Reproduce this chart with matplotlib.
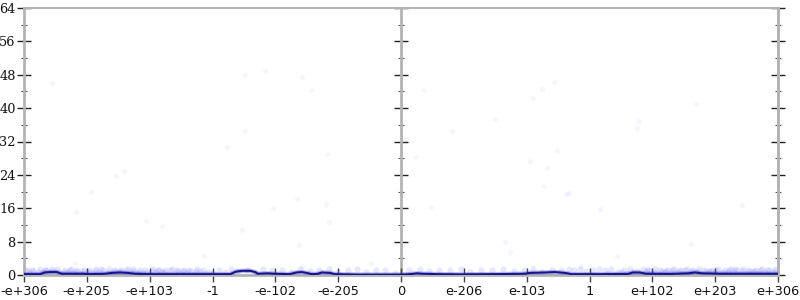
import matplotlib
matplotlib.use("Agg")
import matplotlib.pyplot as plt
import numpy as np

# ---- data (x in ordinal units: tick k at position k, -6..6) ----
tick_pos = [-6, -5, -4, -3, -2, -1, 0, 1, 2, 3, 4, 5, 6]
tick_labels = ["-e+306", "-e+205", "-e+103", "-1", "-e-102", "-e-205", "0",
               "e-206", "e-103", "1", "e+102", "e+203", "e+306"]
y_ticks = [0, 8, 16, 24, 32, 40, 48, 56, 64]

# scattered high-error points
out_x = [-5.55, -5.18, -4.94, -4.53, -4.41, -4.06, -3.80, -3.14, -2.77, -2.53,
         -2.48, -2.48, -2.16, -2.04, -1.65, -1.63, -1.58, -1.43, -1.19, -1.17,
         -1.15, -5.19, -1.58, -0.47,
         0.02, 0.08, 0.24, 0.37, 0.48, 0.81, 1.50, 1.65, 1.73, 2.06, 2.10, 2.24,
         2.28, 2.33, 2.44, 2.49, 2.62, 2.68, 2.86, 3.17, 3.44, 3.75, 3.79, 4.62,
         4.69, 5.42]
out_y = [46.0, 15.1, 20.0, 23.7, 24.9, 13.0, 11.7, 4.5, 30.7, 10.7,
         47.9, 34.5, 48.9, 16.1, 18.1, 7.2, 47.5, 44.4, 16.9, 29.0,
         12.6, 2.8, 2.2, 2.8,
         19.6, 32.6, 28.4, 44.4, 16.4, 34.4, 37.3, 7.8, 5.5, 27.4, 42.5, 44.5,
         21.3, 25.6, 46.3, 29.7, 19.5, 19.6, 2.2, 15.8, 4.6, 35.2, 36.9, 7.5,
         41.0, 16.8]

# low-error band points
band_left_x = [-5.95, -5.85, -5.75, -5.65, -5.55, -5.45, -5.35, -5.25, -5.15, -5.05,
               -4.95, -4.85, -4.75, -4.65, -4.55, -4.45, -4.35, -4.25, -4.15, -4.05,
               -3.95, -3.85, -3.75, -3.65, -3.55, -3.45, -3.35, -3.25, -3.15, -3.05]
band_left_y1 = [1.3, 0.9, 1.5, 1.1, 1.4, 0.8, 1.2, 1.5, 1.0, 1.3,
                0.7, 1.4, 1.1, 1.5, 0.9, 1.2, 1.4, 1.0, 1.3, 0.8,
                1.5, 1.1, 1.2, 1.4, 0.9, 1.3, 1.0, 1.5, 1.2, 0.8]
band_left_x2 = [-5.90, -5.80, -5.70, -5.60, -5.50, -5.40, -5.30, -5.20, -5.10, -5.00,
                -4.90, -4.80, -4.70, -4.60, -4.50, -4.40, -4.30, -4.20, -4.10, -4.00,
                -3.90, -3.80, -3.70, -3.60, -3.50, -3.40, -3.30, -3.20, -3.10, -3.00]
band_left_y2 = [0.5, 0.3, 0.7, 0.4, 0.6, 0.2, 0.8, 0.5, 0.3, 0.6,
                0.4, 0.7, 0.2, 0.5, 0.6, 0.3, 0.8, 0.4, 0.5, 0.2,
                0.7, 0.6, 0.3, 0.5, 0.4, 0.6, 0.3, 0.7, 0.5, 0.4]
band_left_x3 = [-5.97, -5.87, -5.77, -5.67, -5.57, -5.47, -5.37, -5.27, -5.17, -5.07,
                -4.97, -4.87, -4.77, -4.67, -4.57, -4.47, -4.37, -4.27, -4.17, -4.07,
                -3.97, -3.87, -3.77, -3.67, -3.57, -3.47, -3.37, -3.27]
band_left_y3 = [1.0, 1.2, 0.6, 1.3, 0.9, 1.4, 0.7, 1.1, 1.3, 0.9,
                1.2, 1.0, 1.4, 0.8, 1.3, 1.0, 1.2, 1.4, 0.7, 1.1,
                1.0, 1.3, 0.8, 1.1, 1.3, 0.9, 1.2, 1.0]
band_mid_x = [-2.90, -2.80, -2.70, -2.60, -2.45, -2.30, -2.20, -2.05, -1.90, -1.75,
              -1.60, -1.45, -1.30, -1.15, -1.00, -0.85, -0.70, -0.55, -0.40, -0.25,
              -0.10, 0.12, 0.30, 0.45, 0.60, 0.78, 0.95, 1.10, 1.28, 1.45,
              1.62, 1.80, 1.95, 2.10, 2.25, 2.40, 2.55, 2.68]
band_mid_y = [1.3, 0.6, 1.4, 0.9, 1.2, 0.5, 1.4, 1.1, 1.3, 0.7,
              1.4, 1.0, 1.2, 1.4, 0.8, 1.3, 1.4, 0.6, 1.2, 1.3,
              0.5, 1.3, 1.4, 0.9, 1.3, 1.2, 1.4, 0.7, 1.3, 1.2,
              1.4, 1.0, 1.3, 1.4, 0.8, 1.3, 1.2, 1.4]
band_right_x = [2.75, 2.85, 2.95, 3.05, 3.15, 3.25, 3.35, 3.45, 3.55, 3.65,
                3.75, 3.85, 3.95, 4.05, 4.15, 4.25, 4.35, 4.45, 4.55, 4.65,
                4.75, 4.85, 4.95, 5.05, 5.15, 5.25, 5.35, 5.45, 5.55, 5.65,
                5.75, 5.85, 5.95]
band_right_y1 = [1.2, 1.4, 0.9, 1.3, 1.5, 1.1, 1.4, 0.8, 1.3, 1.5,
                 1.0, 1.4, 1.2, 1.5, 0.9, 1.3, 1.4, 1.1, 1.5, 1.2,
                 1.4, 0.9, 1.3, 1.5, 1.1, 1.4, 1.2, 1.5, 1.0, 1.3,
                 1.5, 1.2, 1.4]
band_right_x2 = [3.30, 3.40, 3.50, 3.60, 3.70, 3.80, 3.90, 4.00, 4.10, 4.20,
                 4.30, 4.40, 4.50, 4.60, 4.70, 4.80, 4.90, 5.00, 5.10, 5.20,
                 5.30, 5.40, 5.50, 5.60, 5.70, 5.80, 5.90]
band_right_y2 = [0.5, 0.3, 0.7, 0.4, 0.6, 0.2, 0.8, 0.5, 0.3, 0.6,
                 0.4, 0.7, 0.2, 0.5, 0.6, 0.3, 0.8, 0.4, 0.5, 0.7,
                 0.6, 0.3, 0.5, 0.8, 0.4, 0.6, 0.7]
band_right_x3 = [3.92, 4.02, 4.12, 4.22, 4.32, 4.42, 4.52, 4.62, 4.72, 4.82,
                 4.92, 5.02, 5.12, 5.22, 5.32, 5.42, 5.52, 5.62, 5.72, 5.82, 5.97]
band_right_y3 = [1.1, 0.8, 1.3, 1.0, 1.2, 0.9, 1.3, 1.0, 0.7, 1.2,
                 1.0, 1.3, 0.8, 1.1, 1.4, 0.9, 1.2, 1.0, 1.3, 1.1, 0.9]

# averaged error line
line_x = [-6.00, -5.75, -5.67, -5.59, -5.48, -5.40, -5.27, -5.06, -4.95, -4.71,
          -4.60, -4.47, -4.35, -4.23, -4.00, -3.52, -3.20, -2.72, -2.63, -2.53,
          -2.40, -2.32, -2.28, -2.12, -2.01, -1.77, -1.67, -1.58, -1.50, -1.42,
          -1.32, -1.26, -1.13, -1.05, -0.65, 0.00, 0.14, 0.25, 0.35, 0.62,
          0.94, 1.42, 1.73, 1.97, 2.05, 2.29, 2.45, 2.61, 2.72, 3.17,
          3.61, 3.69, 3.80, 3.90, 4.28, 4.57, 4.68, 4.79, 5.08, 5.55, 6.00]
line_y = [0.2, 0.2, 0.6, 0.7, 0.7, 0.3, 0.3, 0.3, 0.2, 0.3,
          0.5, 0.6, 0.5, 0.3, 0.2, 0.2, 0.2, 0.2, 0.8, 1.0,
          1.0, 0.7, 0.3, 0.4, 0.3, 0.2, 0.6, 0.7, 0.5, 0.2,
          0.3, 0.6, 0.5, 0.2, 0.1, 0.1, 0.2, 0.4, 0.3, 0.2,
          0.15, 0.2, 0.25, 0.3, 0.5, 0.6, 0.7, 0.5, 0.2, 0.2,
          0.25, 0.6, 0.6, 0.3, 0.25, 0.4, 0.6, 0.4, 0.3, 0.3, 0.3]

# ---- figure ----
fig = plt.figure(figsize=(8, 3), dpi=100)
ax = fig.add_axes([24 / 800, 1 - 275 / 300, 754 / 800, 267 / 300])

axis_gray = "#b4b4b4"
tick_col = "#222222"

bx = (band_left_x + band_left_x2 + band_left_x3 + band_mid_x
      + band_right_x + band_right_x2 + band_right_x3)
by = (band_left_y1 + band_left_y2 + band_left_y3 + band_mid_y
      + band_right_y1 + band_right_y2 + band_right_y3)
ax.scatter(bx, by, s=20, color="#4646f5", alpha=0.13, linewidths=0, zorder=2)
ax.scatter(out_x, out_y, s=14, color="#5a5aff", alpha=0.06, linewidths=0, zorder=2)
ax.plot(line_x, line_y, color="#4040d0", lw=3.2, alpha=0.35, zorder=3,
        solid_capstyle="butt")
ax.plot(line_x, line_y, color="#14148c", lw=1.5, zorder=4)

ax.set_xlim(-6, 6)
ax.set_ylim(0, 64)

ax.set_xticks(tick_pos)
ax.set_xticklabels(tick_labels, fontfamily="DejaVu Sans", fontsize=9.3)
ax.set_yticks(y_ticks)
ax.set_yticklabels([str(v) for v in y_ticks], fontfamily="DejaVu Serif", fontsize=9.3)
ax.set_yticks([4, 12, 20, 28, 36, 44, 52, 60], minor=True)

ax.tick_params(axis="x", direction="inout", length=10, width=1, color="#444444",
               pad=2, labelcolor="#111111")
ax.tick_params(axis="y", which="major", direction="inout", length=10, width=1,
               color=tick_col, pad=1, labelcolor="#111111")
ax.tick_params(axis="y", which="minor", direction="inout", length=5, width=0.8,
               color="#555555")

for side in ["left", "right", "top", "bottom"]:
    ax.spines[side].set_color(axis_gray)
    ax.spines[side].set_linewidth(2)
ax.spines["top"].set_linewidth(1.5)

for loc in [0.5, "right"]:
    sec = ax.secondary_yaxis(loc)
    sec.set_yticks(y_ticks)
    sec.set_yticks([4, 12, 20, 28, 36, 44, 52, 60], minor=True)
    sec.set_yticklabels([])
    sec.tick_params(which="major", direction="inout", length=10, width=1, color=tick_col)
    sec.tick_params(which="minor", direction="inout", length=5, width=0.8, color="#555555")
    for sp in sec.spines.values():
        sp.set_color(axis_gray)
        sp.set_linewidth(2)

fig.savefig("out.png", dpi=100)
